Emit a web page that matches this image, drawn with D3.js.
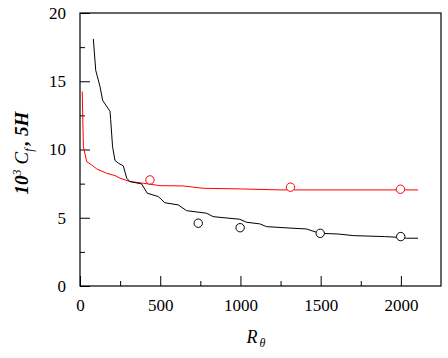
<!DOCTYPE html>
<html>
<head>
<meta charset="utf-8">
<script src="https://cdn.jsdelivr.net/npm/d3@7"></script>
<style>
  body { margin: 0; background: #fff; }
  text { font-family: "Liberation Serif", "Times New Roman", serif; }
</style>
</head>
<body>
<div id="chart"></div>
<script>
// black line (5H)
var blackR = [83, 98, 125, 141, 187, 191, 203, 218, 239, 270, 291, 311, 384, 419, 488, 529, 612, 664, 789, 830, 996, 1038, 1121, 1162, 1328, 1411, 1494, 1608, 1706, 1899, 1980, 2034, 2107];
var blackV = [18.1, 15.8, 14.6, 13.6, 12.8, 12.2, 10.2, 9.2, 9.0, 8.8, 7.9, 7.65, 7.48, 6.8, 6.55, 6.1, 5.94, 5.52, 5.33, 5.08, 4.89, 4.67, 4.55, 4.35, 4.23, 4.18, 3.86, 3.81, 3.69, 3.62, 3.57, 3.5, 3.5];
// red line (10^3 Cf)
var redR = [14, 21, 42, 73, 104, 166, 218, 249, 311, 394, 498, 643, 768, 1007, 1245, 2107];
var redV = [14.25, 10.2, 9.1, 8.87, 8.58, 8.26, 8.09, 7.9, 7.65, 7.53, 7.35, 7.33, 7.16, 7.11, 7.04, 7.04];
// measured points
var redPtR = [436, 1312, 1997];
var redPtV = [7.77, 7.24, 7.09];
var blackPtR = [737, 998, 1497, 1999];
var blackPtV = [4.6, 4.27, 3.86, 3.62];

var xTicks = [0, 500, 1000, 1500, 2000];
var yTicks = [0, 5, 10, 15, 20];

var width = 448, height = 358;
var margin = {left: 80, right: 7, top: 13, bottom: 72};
var w = width - margin.left - margin.right;
var h = height - margin.top - margin.bottom;

var svg = d3.select("#chart").append("svg")
  .attr("width", width)
  .attr("height", height);

var g = svg.append("g")
  .attr("transform", "translate(" + margin.left + "," + margin.top + ")");

var x = d3.scaleLinear().domain([0, 2250]).range([0, w]);
var y = d3.scaleLinear().domain([0, 20]).range([h, 0]);

// minor ticks
var xMinor = d3.axisBottom(x).tickValues(d3.range(250, 2250, 500)).tickSize(-5).tickFormat("");
var yMinor = d3.axisLeft(y).tickValues(d3.range(2.5, 20, 5)).tickSize(-5).tickFormat("");
g.append("g").attr("class", "minor").attr("transform", "translate(0," + h + ")").call(xMinor);
g.append("g").attr("class", "minor").call(yMinor);

var xAxis = d3.axisBottom(x).tickValues(xTicks).tickSize(-10).tickPadding(13).tickSizeOuter(0).tickFormat(d3.format("d"));
var yAxis = d3.axisLeft(y).tickValues(yTicks).tickSize(-10).tickPadding(14).tickSizeOuter(0).tickFormat(d3.format("d"));

g.append("g").attr("transform", "translate(0," + h + ")").call(xAxis);
g.append("g").call(yAxis);

g.selectAll(".tick line").attr("stroke", "#000").attr("stroke-width", 1);
g.selectAll(".domain").remove();
g.selectAll(".tick text")
  .attr("fill", "#000")
  .style("font-family", "'Liberation Serif', 'Times New Roman', serif")
  .style("font-size", "17px");

// frame
g.append("rect")
  .attr("x", 0).attr("y", 0)
  .attr("width", w).attr("height", h)
  .attr("fill", "none")
  .attr("stroke", "#000")
  .attr("stroke-width", 1.2);

var line = d3.line()
  .x(function(d) { return x(d[0]); })
  .y(function(d) { return y(d[1]); });

g.append("path")
  .datum(d3.zip(redR, redV))
  .attr("d", line)
  .attr("fill", "none")
  .attr("stroke", "#ff0000")
  .attr("stroke-width", 1);

g.append("path")
  .datum(d3.zip(blackR, blackV))
  .attr("d", line)
  .attr("fill", "none")
  .attr("stroke", "#000")
  .attr("stroke-width", 1);

g.selectAll(".rpt")
  .data(d3.zip(redPtR, redPtV))
  .enter().append("circle")
  .attr("cx", function(d) { return x(d[0]); })
  .attr("cy", function(d) { return y(d[1]); })
  .attr("r", 4.2)
  .attr("fill", "#fff")
  .attr("stroke", "#ff0000")
  .attr("stroke-width", 1);

g.selectAll(".bpt")
  .data(d3.zip(blackPtR, blackPtV))
  .enter().append("circle")
  .attr("cx", function(d) { return x(d[0]); })
  .attr("cy", function(d) { return y(d[1]); })
  .attr("r", 4.2)
  .attr("fill", "#fff")
  .attr("stroke", "#000")
  .attr("stroke-width", 1);

// y label
var yl = svg.append("text")
  .attr("transform", "translate(28,153) rotate(-90)")
  .attr("text-anchor", "middle")
  .style("font-size", "19px")
  .style("font-style", "italic")
  .style("font-weight", "bold")
  .attr("fill", "#000");
yl.append("tspan").text("10");
yl.append("tspan").attr("dy", -7).style("font-size", "12px").style("font-weight", "normal").text("3");
yl.append("tspan").attr("dy", 7).attr("dx", 5).style("font-weight", "normal").text("C");
yl.append("tspan").attr("dy", 5).style("font-size", "12px").style("font-weight", "normal").text("f");
yl.append("tspan").attr("dy", -5).attr("dx", 3).text(", 5H");

// x label
var xl = svg.append("text")
  .attr("x", 256)
  .attr("y", 343)
  .attr("text-anchor", "middle")
  .style("font-size", "18px")
  .style("font-style", "italic")
  .attr("fill", "#000");
xl.append("tspan").text("R");
xl.append("tspan").attr("dx", 2).attr("dy", 4).style("font-size", "12px").text("θ");
</script>
</body>
</html>
